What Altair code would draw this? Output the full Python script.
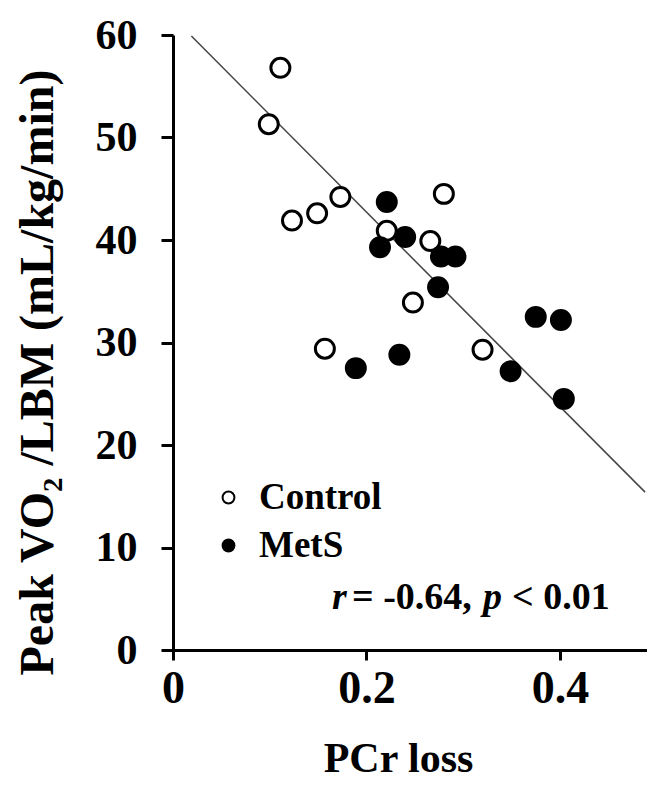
import altair as alt
import pandas as pd

# ---- data ----
groups = ["Control", "MetS"]
control_x = [0.111, 0.099, 0.173, 0.149, 0.123, 0.280, 0.221, 0.266, 0.248, 0.157, 0.320]
control_y = [56.8, 51.3, 44.2, 42.6, 41.9, 44.5, 40.9, 39.9, 33.9, 29.4, 29.3]
mets_x = [0.221, 0.240, 0.214, 0.277, 0.292, 0.274, 0.375, 0.401, 0.189, 0.234, 0.349, 0.404]
mets_y = [43.7, 40.3, 39.3, 38.4, 38.4, 35.4, 32.5, 32.2, 27.5, 28.8, 27.2, 24.5]
fit_x = [0.019, 0.488]
fit_y = [59.9, 15.4]
x_ticks = [0, 0.2, 0.4]
y_ticks = [0, 10, 20, 30, 40, 50, 60]
stat_parts = ["r", "= -0.64,", "p", "< 0.01"]
stat_italic = [True, False, True, False]

FONT = "Liberation Serif"

pts = pd.DataFrame({
    "x": control_x + mets_x,
    "y": control_y + mets_y,
    "group": [groups[0]] * len(control_x) + [groups[1]] * len(mets_x),
    "order": [0] * len(control_x) + [1] * len(mets_x),
})
fit = pd.DataFrame({"x": fit_x, "y": fit_y})

xscale = alt.Scale(domain=[0, 0.49], nice=False, zero=True)
yscale = alt.Scale(domain=[0, 60], nice=False)

x_axis = alt.Axis(
    values=x_ticks, format=".1~f", title="PCr loss", grid=False,
    domainColor="black", domainWidth=3, tickColor="black", tickWidth=3, tickSize=10,
    labelFont=FONT, labelFontSize=46, labelFontWeight="bold", labelColor="black",
    labelPadding=6, labelFlush=False, labelOverlap=False,
    titleFont=FONT, titleFontSize=42, titleFontWeight="bold", titleColor="black",
    titleX=225, titleY=121, titleAlign="center", titleBaseline="alphabetic",
)
y_axis = alt.Axis(
    values=y_ticks, title="Peak VO\u2082 /LBM (mL/kg/min)", grid=False,
    domainColor="black", domainWidth=3, tickColor="black", tickWidth=3, tickSize=12,
    labelFont=FONT, labelFontSize=42, labelFontWeight="bold", labelColor="black",
    labelPadding=24, labelFlush=False, labelOverlap=False,
    titleFont=FONT, titleFontSize=48, titleFontWeight="bold", titleColor="black",
    titleX=-135, titleY=337, titleAngle=-90, titleAlign="center", titleBaseline="middle",
)

points = alt.Chart(pts).mark_point(
    shape="circle", filled=True, stroke="black", strokeWidth=3, opacity=1, size=360
).encode(
    x=alt.X("x:Q", scale=xscale, axis=x_axis),
    y=alt.Y("y:Q", scale=yscale, axis=y_axis),
    fill=alt.Fill(
        "group:N",
        scale=alt.Scale(domain=groups, range=["white", "black"]),
        legend=alt.Legend(
            title=None, orient="none", legendX=37, legendY=444,
            symbolType="circle", symbolSize=140, symbolStrokeColor="black",
            symbolStrokeWidth=2, labelFont=FONT, labelFontSize=37,
            labelFontWeight="bold", labelColor="black", labelOffset=12,
            rowPadding=10, padding=0,
        ),
    ),
    order=alt.Order("order:Q"),
)

line = alt.Chart(fit).mark_line(color="#444444", strokeWidth=1.5).encode(
    x=alt.X("x:Q", scale=xscale),
    y=alt.Y("y:Q", scale=yscale),
)

stat_x = [159, 179, 310, 339]
texts = []
for part, it, sx in zip(stat_parts, stat_italic, stat_x):
    texts.append(
        alt.Chart(pd.DataFrame({"t": [part]})).mark_text(
            font=FONT, fontSize=38, fontWeight="bold",
            fontStyle="italic" if it else "normal",
            align="left", baseline="alphabetic", color="black",
        ).encode(text="t:N", x=alt.value(sx), y=alt.value(574))
    )

chart = alt.layer(line, points, *texts).properties(
    width=474, height=615,
    autosize=alt.AutoSizeParams(type="none"),
    padding={"left": 165, "top": 27, "right": 0, "bottom": 129},
    background="white",
).configure_view(stroke=None)

chart.save("out.html", embed_options={"renderer": "svg", "actions": False})
